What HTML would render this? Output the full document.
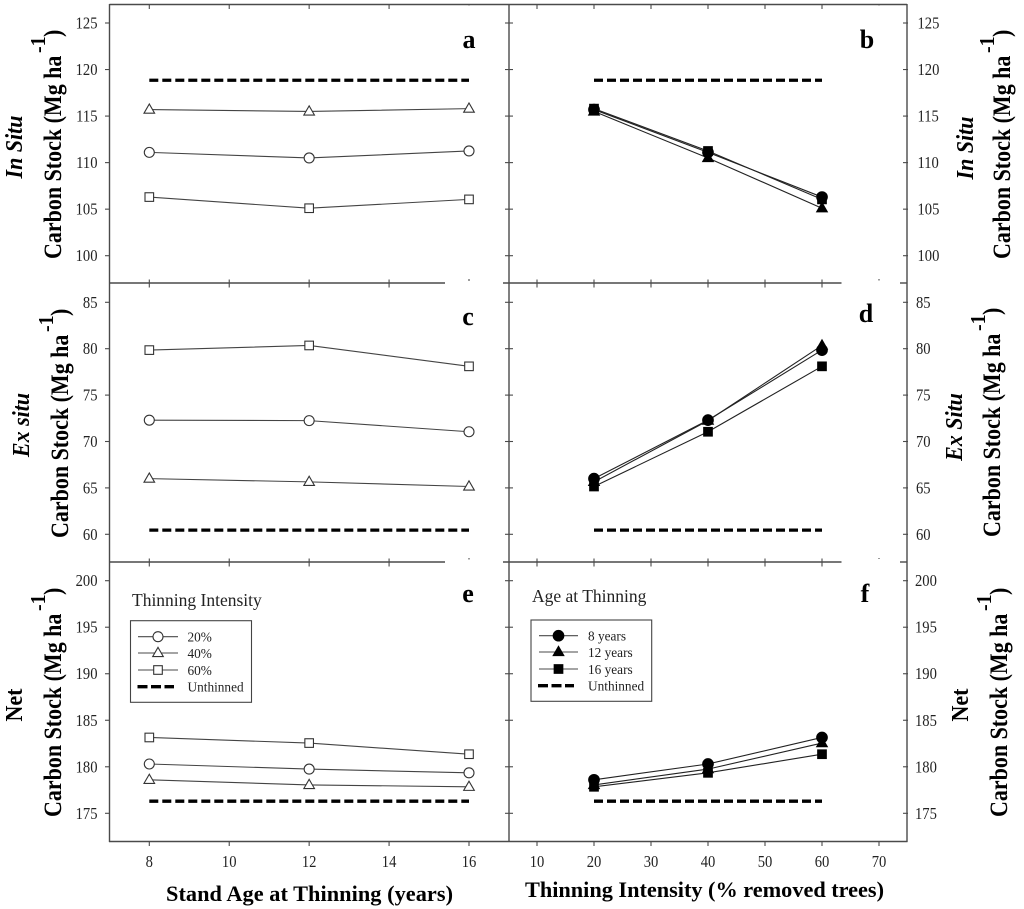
<!DOCTYPE html>
<html lang="en">
<head>
<meta charset="utf-8">
<title>Carbon Stock by Stand Age and Thinning Intensity</title>
<style>
html,body{margin:0;padding:0;background:#fff;}
svg{display:block;font-family:"Liberation Serif",serif;}
.tick-label{font-size:14.6px;fill:#222;}
.unit{font-size:22px;font-weight:bold;fill:#000;}
.sup{font-size:20px;font-weight:bold;fill:#000;}
.kind{font-size:22px;font-weight:bold;fill:#000;}
.letter{font-size:26px;font-weight:bold;fill:#000;text-anchor:middle;}
.xtitle{font-size:22.3px;font-weight:bold;fill:#000;}
.legend-title{font-size:17.5px;fill:#222;}
.legend-label{font-size:13.3px;fill:#222;}
</style>
</head>
<body>
<svg id="chart" xmlns="http://www.w3.org/2000/svg" width="1024" height="909" viewBox="0 0 1024 909">
  <g id="frame"></g>
  <g id="marks"></g>

  <text class="kind" font-style="italic" text-anchor="middle" transform="translate(22 147) rotate(-90) scale(1 1.08)">In Situ</text>
  <text class="unit" transform="translate(61 259) rotate(-90) scale(1 1.16)">Carbon Stock (Mg ha</text>
  <text class="sup" transform="translate(45 53) rotate(-90) scale(1 1.08)">-1</text>
  <text class="unit" transform="translate(61 37) rotate(-90) scale(1 1.16)">)</text>

  <text class="kind" font-style="italic" text-anchor="middle" transform="translate(29 425) rotate(-90) scale(1 1.08)">Ex situ</text>
  <text class="unit" transform="translate(68 538) rotate(-90) scale(1 1.16)">Carbon Stock (Mg ha</text>
  <text class="sup" transform="translate(53 332) rotate(-90) scale(1 1.08)">-1</text>
  <text class="unit" transform="translate(68 316) rotate(-90) scale(1 1.16)">)</text>

  <text class="kind" text-anchor="middle" transform="translate(22 705) rotate(-90) scale(1 1.08)">Net</text>
  <text class="unit" transform="translate(61 817) rotate(-90) scale(1 1.16)">Carbon Stock (Mg ha</text>
  <text class="sup" transform="translate(45 611) rotate(-90) scale(1 1.08)">-1</text>
  <text class="unit" transform="translate(61 595) rotate(-90) scale(1 1.16)">)</text>

  <text class="kind" font-style="italic" text-anchor="middle" transform="translate(973 148) rotate(-90) scale(1 1.08)">In Situ</text>
  <text class="unit" transform="translate(1010 259) rotate(-90) scale(1 1.16)">Carbon Stock (Mg ha</text>
  <text class="sup" transform="translate(994 53) rotate(-90) scale(1 1.08)">-1</text>
  <text class="unit" transform="translate(1010 37) rotate(-90) scale(1 1.16)">)</text>

  <text class="kind" font-style="italic" text-anchor="middle" transform="translate(962 427) rotate(-90) scale(1 1.08)">Ex Situ</text>
  <text class="unit" transform="translate(1000 537) rotate(-90) scale(1 1.16)">Carbon Stock (Mg ha</text>
  <text class="sup" transform="translate(985 331) rotate(-90) scale(1 1.08)">-1</text>
  <text class="unit" transform="translate(1000 315) rotate(-90) scale(1 1.16)">)</text>

  <text class="kind" text-anchor="middle" transform="translate(968 705) rotate(-90) scale(1 1.08)">Net</text>
  <text class="unit" transform="translate(1007 817) rotate(-90) scale(1 1.16)">Carbon Stock (Mg ha</text>
  <text class="sup" transform="translate(991 611) rotate(-90) scale(1 1.08)">-1</text>
  <text class="unit" transform="translate(1007 595) rotate(-90) scale(1 1.16)">)</text>

  <text class="letter" x="469" y="48">a</text>
  <text class="letter" x="867" y="48">b</text>
  <text class="letter" x="468" y="325">c</text>
  <text class="letter" x="866" y="322">d</text>
  <text class="letter" x="468" y="602">e</text>
  <text class="letter" x="865" y="602">f</text>

  <text class="xtitle" x="166" y="901" textLength="287" lengthAdjust="spacing">Stand Age at Thinning (years)</text>
  <text class="xtitle" x="525" y="897" textLength="359" lengthAdjust="spacing">Thinning Intensity (% removed trees)</text>

  <text class="legend-title" x="132" y="606">Thinning Intensity</text>
  <rect x="130.5" y="620.7" width="121" height="81.6" fill="#fff" stroke="#444" stroke-width="1.1"/>
  <text class="legend-label" x="187.5" y="641.5">20%</text>
  <text class="legend-label" x="187.5" y="658">40%</text>
  <text class="legend-label" x="187.5" y="675">60%</text>
  <text class="legend-label" x="187.5" y="691.5">Unthinned</text>

  <text class="legend-title" x="532" y="602">Age at Thinning</text>
  <rect x="531" y="620" width="120.7" height="81.3" fill="#fff" stroke="#444" stroke-width="1.1"/>
  <text class="legend-label" x="588" y="640.5">8 years</text>
  <text class="legend-label" x="588" y="657">12 years</text>
  <text class="legend-label" x="588" y="674">16 years</text>
  <text class="legend-label" x="588" y="690.5">Unthinned</text>

  <g id="legend-marks"></g>
</svg>

<script>
// ---------- categories ----------
const ageCategories = [8, 12, 16];
const intensityCategories = [20, 40, 60];

// ---------- tick labels ----------
const ageTicks = [8, 10, 12, 14, 16];
const intensityTicks = [10, 20, 30, 40, 50, 60, 70];
const inSituTicks = [100, 105, 110, 115, 120, 125];
const exSituTicks = [60, 65, 70, 75, 80, 85];
const netTicks = [175, 180, 185, 190, 195, 200];

// ---------- panel a: in situ by stand age ----------
const inSituIntensity20 = [111.1, 110.5, 111.25];
const inSituIntensity40 = [115.7, 115.5, 115.8];
const inSituIntensity60 = [106.3, 105.1, 106.05];
const inSituUnthinned = [118.85, 118.85, 118.85];

// ---------- panel b: in situ by intensity ----------
const inSituAge8 = [115.7, 111.1, 106.3];
const inSituAge12 = [115.5, 110.5, 105.1];
const inSituAge16 = [115.8, 111.25, 106.05];

// ---------- panel c: ex situ by stand age ----------
const exSituIntensity20 = [72.3, 72.25, 71.05];
const exSituIntensity40 = [66.0, 65.65, 65.15];
const exSituIntensity60 = [79.85, 80.35, 78.1];
const exSituUnthinned = [60.45, 60.45, 60.45];

// ---------- panel d: ex situ by intensity ----------
const exSituAge8 = [66.0, 72.3, 79.85];
const exSituAge12 = [65.65, 72.25, 80.35];
const exSituAge16 = [65.15, 71.05, 78.1];

// ---------- panel e: net by stand age ----------
const netIntensity20 = [180.3, 179.75, 179.35];
const netIntensity40 = [178.6, 178.05, 177.85];
const netIntensity60 = [183.15, 182.55, 181.35];
const netUnthinned = [176.3, 176.3, 176.3];

// ---------- panel f: net by intensity ----------
const netAge8 = [178.6, 180.3, 183.15];
const netAge12 = [178.05, 179.75, 182.55];
const netAge16 = [177.85, 179.35, 181.35];

// ---------- axis functions ----------
function linear(d0, d1, r0, r1) {
  return function (v) { return r0 + (v - d0) * (r1 - r0) / (d1 - d0); };
}
const xAge = linear(8, 16, 149.3, 469);
const xIntensity = linear(20, 60, 594, 822);
const yInSitu = linear(100, 125, 255.7, 23);
const yExSitu = linear(60, 85, 534.3, 302.3);
const yNet = linear(175, 200, 813.3, 580.7);

const NS = 'http://www.w3.org/2000/svg';
const frame = document.getElementById('frame');
const marks = document.getElementById('marks');
const legendMarks = document.getElementById('legend-marks');
const AXIS = '#4a4a4a';

function makeLine(x1, y1, x2, y2, width) {
  const el = document.createElementNS(NS, 'line');
  el.setAttribute('x1', x1);
  el.setAttribute('y1', y1);
  el.setAttribute('x2', x2);
  el.setAttribute('y2', y2);
  el.setAttribute('stroke', AXIS);
  el.setAttribute('stroke-width', width);
  return el;
}

function addAxisLine(x1, y1, x2, y2) {
  const el = makeLine(x1, y1, x2, y2, 1.4);
  
  
  frame.appendChild(el);
}

function addTick(x1, y1, x2, y2) {
  const el = makeLine(x1, y1, x2, y2, 1.1);
  
  
  frame.appendChild(el);
}

function addTickLabel(x, y, anchor, value) {
  const el = document.createElementNS(NS, 'text');
  el.setAttribute('class', 'tick-label');
  el.setAttribute('transform', 'translate(' + x + ' ' + y + ') scale(1 1.12)');
  el.setAttribute('text-anchor', anchor);
  
  
  el.textContent = value;
  frame.appendChild(el);
}

// Frame lines
addAxisLine(109.5, 4.5, 907, 4.5);
addAxisLine(109.5, 4, 109.5, 842);
addAxisLine(509, 4, 509, 842);
addAxisLine(907, 4, 907, 842);
addAxisLine(109, 841.5, 907.5, 841.5);
[283, 562].forEach(function (y) {
  addAxisLine(109, y, 445, y);
  addAxisLine(503, y, 841.5, y);
  addAxisLine(900, y, 907, y);
});

// Y ticks
[[inSituTicks, yInSitu, 917.5], [exSituTicks, yExSitu, 916], [netTicks, yNet, 915]].forEach(function (row) {
  row[0].forEach(function (t) {
    const y = row[1](t);
    addTick(105, y, 110, y);
    addTick(505, y, 513, y);
    addTick(903, y, 908, y);
    addTickLabel(97.5, y + 5.5, 'end', t);
    addTickLabel(row[2], y + 5.5, 'start', t);
  });
});

// X ticks
ageTicks.forEach(function (t) {
  const x = xAge(t);
  const last = t === 16;
  addTick(x, 4.5, x, last ? 5.5 : 9);
  if (!last) {
    addTick(x, 279.5, x, 287.5);
    addTick(x, 558.5, x, 566.5);
  } else {
    addTick(x, 279, x, 281);
    addTick(x, 558, x, 559.5);
  }
  addTick(x, 841.5, x, 846);
  addTickLabel(x, 867, 'middle', t);
});
intensityTicks.forEach(function (t) {
  const x = xIntensity(t);
  const last = t === 70;
  addTick(x, 4.5, x, last ? 5.5 : 9);
  if (!last) {
    addTick(x, 279.5, x, 287.5);
    addTick(x, 558.5, x, 566.5);
  } else {
    addTick(x, 279, x, 280.5);
    addTick(x, 558, x, 559);
  }
  addTick(x, 841.5, x, 846);
  addTickLabel(x, 867, 'middle', t);
});

// Markers
function drawMarker(parent, shape, x, y, filled, name) {
  let el;
  if (shape === 'circle') {
    el = document.createElementNS(NS, 'circle');
    el.setAttribute('cx', x);
    el.setAttribute('cy', y);
    el.setAttribute('r', filled ? 5.3 : 5);
  } else if (shape === 'square') {
    el = document.createElementNS(NS, 'rect');
    el.setAttribute('x', x - 4.3);
    el.setAttribute('y', y - 4.3);
    el.setAttribute('width', 8.6);
    el.setAttribute('height', 8.6);
  } else {
    el = document.createElementNS(NS, 'polygon');
    el.setAttribute('points', (x - 5.3) + ',' + (y + 3.6) + ' ' + (x + 5.3) + ',' + (y + 3.6) + ' ' + x + ',' + (y - 5.6));
  }
  el.setAttribute('fill', filled ? '#000' : '#fff');
  el.setAttribute('stroke', filled ? '#000' : '#333');
  el.setAttribute('stroke-width', 1.1);
  
  
  parent.appendChild(el);
}

function pathFor(cats, vals, xs, ys) {
  return cats.map(function (c, i) { return xs(c) + ',' + ys(vals[i]); }).join(' ');
}

function drawSeries(cats, vals, xs, ys, shape, filled, name) {
  const pl = document.createElementNS(NS, 'polyline');
  pl.setAttribute('points', pathFor(cats, vals, xs, ys));
  pl.setAttribute('fill', 'none');
  pl.setAttribute('stroke', filled ? '#222' : '#444');
  pl.setAttribute('stroke-width', 1.1);
  
  
  marks.appendChild(pl);
  cats.forEach(function (c, i) {
    drawMarker(marks, shape, xs(c), ys(vals[i]), filled, name + '-point');
  });
}

function drawUnthinned(cats, vals, xs, ys, name) {
  const pl = document.createElementNS(NS, 'polyline');
  pl.setAttribute('points', pathFor(cats, vals, xs, ys));
  pl.setAttribute('fill', 'none');
  pl.setAttribute('stroke', '#000');
  pl.setAttribute('stroke-width', 3.3);
  pl.setAttribute('stroke-dasharray', '9 4');
  
  
  marks.appendChild(pl);
}

// Panel a
drawUnthinned(ageCategories, inSituUnthinned, xAge, yInSitu, 'unthinned-a');
drawSeries(ageCategories, inSituIntensity20, xAge, yInSitu, 'circle', false, 'series-a-20');
drawSeries(ageCategories, inSituIntensity40, xAge, yInSitu, 'triangle', false, 'series-a-40');
drawSeries(ageCategories, inSituIntensity60, xAge, yInSitu, 'square', false, 'series-a-60');

// Panel b
drawUnthinned(intensityCategories, inSituUnthinned, xIntensity, yInSitu, 'unthinned-b');
drawSeries(intensityCategories, inSituAge12, xIntensity, yInSitu, 'triangle', true, 'series-b-12');
drawSeries(intensityCategories, inSituAge8, xIntensity, yInSitu, 'circle', true, 'series-b-8');
drawSeries(intensityCategories, inSituAge16, xIntensity, yInSitu, 'square', true, 'series-b-16');

// Panel c
drawUnthinned(ageCategories, exSituUnthinned, xAge, yExSitu, 'unthinned-c');
drawSeries(ageCategories, exSituIntensity20, xAge, yExSitu, 'circle', false, 'series-c-20');
drawSeries(ageCategories, exSituIntensity40, xAge, yExSitu, 'triangle', false, 'series-c-40');
drawSeries(ageCategories, exSituIntensity60, xAge, yExSitu, 'square', false, 'series-c-60');

// Panel d
drawUnthinned(intensityCategories, exSituUnthinned, xIntensity, yExSitu, 'unthinned-d');
drawSeries(intensityCategories, exSituAge12, xIntensity, yExSitu, 'triangle', true, 'series-d-12');
drawSeries(intensityCategories, exSituAge8, xIntensity, yExSitu, 'circle', true, 'series-d-8');
drawSeries(intensityCategories, exSituAge16, xIntensity, yExSitu, 'square', true, 'series-d-16');

// Panel e
drawUnthinned(ageCategories, netUnthinned, xAge, yNet, 'unthinned-e');
drawSeries(ageCategories, netIntensity20, xAge, yNet, 'circle', false, 'series-e-20');
drawSeries(ageCategories, netIntensity40, xAge, yNet, 'triangle', false, 'series-e-40');
drawSeries(ageCategories, netIntensity60, xAge, yNet, 'square', false, 'series-e-60');

// Panel f
drawUnthinned(intensityCategories, netUnthinned, xIntensity, yNet, 'unthinned-f');
drawSeries(intensityCategories, netAge12, xIntensity, yNet, 'triangle', true, 'series-f-12');
drawSeries(intensityCategories, netAge16, xIntensity, yNet, 'square', true, 'series-f-16');
drawSeries(intensityCategories, netAge8, xIntensity, yNet, 'circle', true, 'series-f-8');

// Legend keys
function legendKey(x1, x2, y, shape, filled) {
  const ln = makeLine(x1, y, x2, y, 1.1);
  
  
  legendMarks.appendChild(ln);
  drawMarker(legendMarks, shape, (x1 + x2) / 2, y, filled, 'legend-key-marker');
}
function legendDash(x1, x2, y) {
  const ln = makeLine(x1, y, x2, y, 3.3);
  ln.setAttribute('stroke', '#000');
  ln.setAttribute('stroke-dasharray', '10 3.5');
  
  
  legendMarks.appendChild(ln);
}
legendKey(138, 178, 636.7, 'circle', false);
legendKey(138, 178, 653, 'triangle', false);
legendKey(138, 178, 670, 'square', false);
legendDash(137.5, 174, 686.7);
legendKey(539, 578, 635.7, 'circle', true);
legendKey(539, 578, 652, 'triangle', true);
legendKey(539, 578, 669, 'square', true);
legendDash(538, 574, 685.7);
</script>
</body>
</html>
